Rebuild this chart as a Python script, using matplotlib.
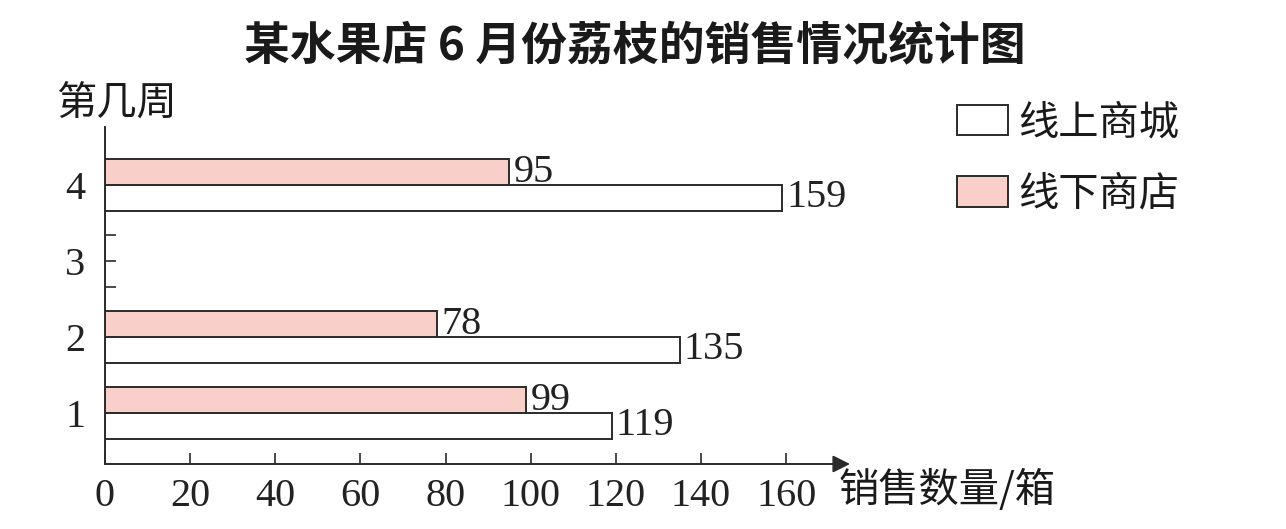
import numpy as np
import matplotlib
matplotlib.use('Agg')
from matplotlib import pyplot as plt

plt.rcParams['font.family'] = ['Noto Sans CJK SC', 'DejaVu Sans']

weeks = [1, 2, 3, 4]
online = [119, 135, None, 159]    # 线上商城, week 3 not given
offline = [99, 78, None, 95]      # 线下商店
week_labels = ['1', '2', '3', '4']
x_ticks = [0, 20, 40, 60, 80, 100, 120, 140, 160]

title = '某水果店 6 月份荔枝的销售情况统计图'
y_name = '第几周'
x_name = '销售数量/箱'
names = ['线上商城', '线下商店']

pink = '#f9cfca'
edge = '#2b2b2b'
h = 0.336
serif = ['Liberation Serif', 'DejaVu Serif']
fs = 29

fig = plt.figure(figsize=(12.86, 5.29), dpi=100)
ax = fig.add_axes([105/1286, 1-464/529, 745/1286, (464-127)/529])

w_on = [w for w, v in zip(weeks, online) if v is not None]
v_on = [v for v in online if v is not None]
w_off = [w for w, v in zip(weeks, offline) if v is not None]
v_off = [v for v in offline if v is not None]

b_on = ax.barh(np.array(w_on) - h/2, v_on, height=h, color='white',
               edgecolor=edge, linewidth=1.4, label=names[0])
b_off = ax.barh(np.array(w_off) + h/2, v_off, height=h, color=pink,
                edgecolor=edge, linewidth=1.4, label=names[1])
for b in (b_on, b_off):
    ax.bar_label(b, padding=3, fontsize=fs, family=serif, color='#222')

ax.set_xlim(0, 175)
ax.set_ylim(0.329, 4.763)
for s in ('top', 'right'):
    ax.spines[s].set_visible(False)
ax.spines['bottom'].set_visible(False)
ax.spines['left'].set_linewidth(1.4)
ax.spines['left'].set_color(edge)
ax.annotate('', xy=(1, 0), xytext=(0, 0), xycoords='axes fraction',
            arrowprops=dict(arrowstyle='-|>', color=edge, lw=1.4,
                            mutation_scale=26, shrinkA=0, shrinkB=0))

ax.set_xticks(x_ticks)
ax.set_xticklabels([str(t) for t in x_ticks], family=serif, fontsize=fs)
ax.tick_params(axis='x', direction='in', length=8, width=1.2, color=edge,
               pad=10, labelcolor='#222')
ax.set_yticks(weeks)
ax.set_yticklabels(week_labels, family=serif, fontsize=fs)
ax.tick_params(axis='y', direction='in', length=8, width=1.2, color=edge,
               pad=14, labelcolor='#222')
ax.set_yticks([3 - h, 3 + h], minor=True)
ax.tick_params(axis='y', which='minor', direction='in', length=8,
               width=1.2, color=edge)

fig.text(0.494, 0.913, title, ha='center', va='center', fontsize=33,
         fontweight='bold', color='#1a1a1a')
fig.text(117/1286, 1-103/529, y_name, ha='center', va='center',
         fontsize=fs, color='#1a1a1a')
fig.text(838/1286, 1-490/529, x_name, ha='left', va='center',
         fontsize=fs, color='#1a1a1a')

handles = [b_on, b_off]
leg = fig.legend(handles, names, loc='upper left',
                 bbox_to_anchor=(921/1286, 1-66/529), frameon=False,
                 fontsize=fs, handlelength=1.25, handleheight=0.78,
                 handletextpad=0.25, labelspacing=0.75)
for t in leg.get_texts():
    t.set_color('#1a1a1a')

fig.savefig('out.png', dpi=100, facecolor='white')
